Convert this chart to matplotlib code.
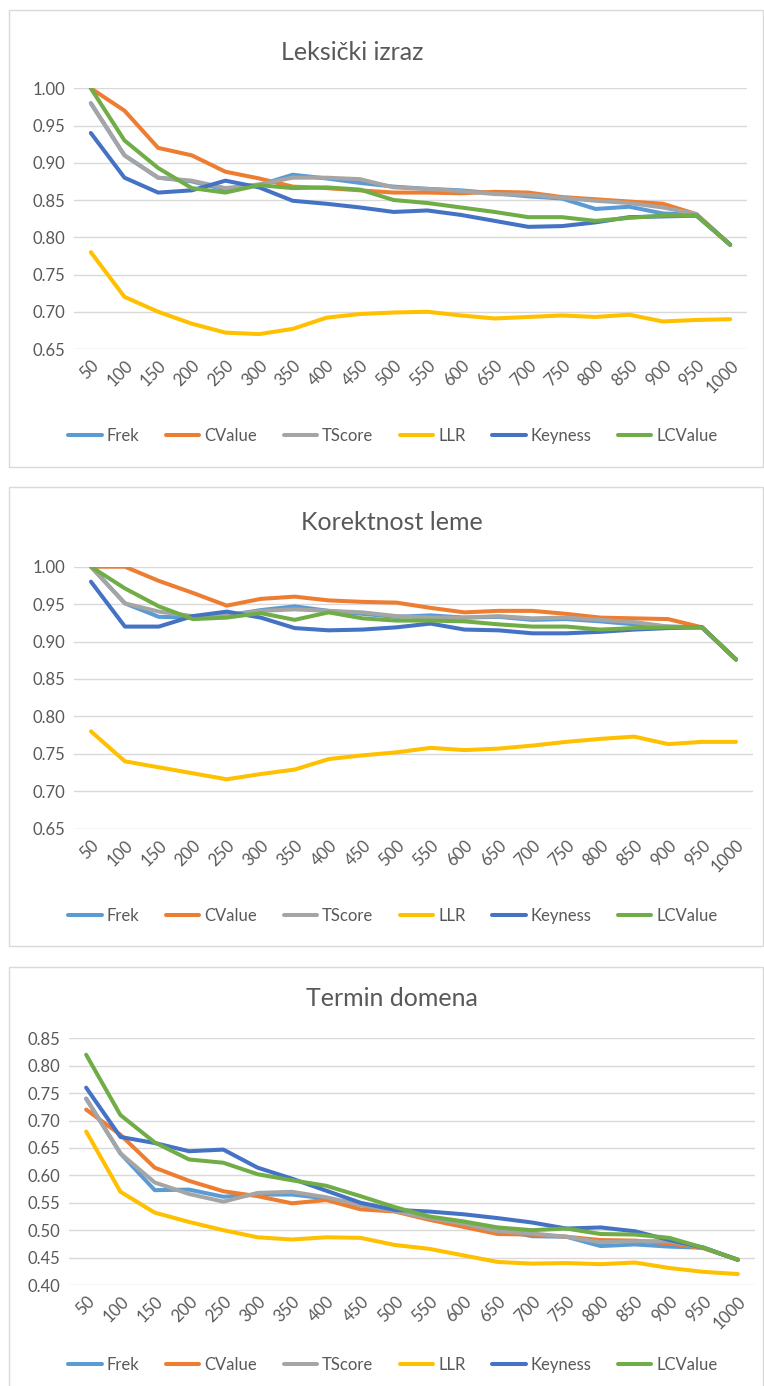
import numpy as np
import matplotlib
matplotlib.use("Agg")
import matplotlib.pyplot as plt
from matplotlib.patches import Rectangle

plt.rcParams['font.family'] = ['Lato', 'DejaVu Sans']

cats = [50, 100, 150, 200, 250, 300, 350, 400, 450, 500,
        550, 600, 650, 700, 750, 800, 850, 900, 950, 1000]
names = ["Frek", "CValue", "TScore", "LLR", "Keyness", "LCValue"]
colors = ["#5B9BD5", "#ED7D31", "#A5A5A5", "#FFC000", "#4472C4", "#70AD47"]

# Leksicki izraz
lek_frek = [0.98, 0.91, 0.88, 0.875, 0.864, 0.87, 0.884, 0.879, 0.873, 0.868,
            0.865, 0.863, 0.859, 0.855, 0.852, 0.838, 0.841, 0.832, 0.830, 0.790]
lek_cvalue = [1.00, 0.97, 0.92, 0.91, 0.888, 0.879, 0.868, 0.866, 0.863, 0.860,
              0.860, 0.859, 0.861, 0.860, 0.854, 0.851, 0.848, 0.845, 0.831, 0.790]
lek_tscore = [0.98, 0.91, 0.880, 0.876, 0.866, 0.871, 0.880, 0.880, 0.878, 0.867,
              0.865, 0.862, 0.858, 0.857, 0.853, 0.849, 0.846, 0.840, 0.831, 0.790]
lek_llr = [0.78, 0.72, 0.70, 0.684, 0.672, 0.670, 0.677, 0.692, 0.697, 0.699,
           0.700, 0.695, 0.691, 0.693, 0.695, 0.693, 0.696, 0.687, 0.689, 0.690]
lek_keyness = [0.94, 0.88, 0.86, 0.863, 0.876, 0.867, 0.849, 0.845, 0.840, 0.834,
               0.836, 0.830, 0.822, 0.814, 0.815, 0.820, 0.827, 0.828, 0.829, 0.790]
lek_lcvalue = [1.00, 0.93, 0.893, 0.866, 0.860, 0.870, 0.866, 0.867, 0.864, 0.850,
               0.846, 0.840, 0.834, 0.827, 0.827, 0.822, 0.826, 0.829, 0.829, 0.790]

# Korektnost leme
kor_frek = [1.00, 0.951, 0.933, 0.932, 0.935, 0.942, 0.947, 0.941, 0.937, 0.933,
            0.935, 0.932, 0.933, 0.929, 0.930, 0.927, 0.923, 0.920, 0.919, 0.876]
kor_cvalue = [1.00, 1.00, 0.981, 0.965, 0.948, 0.957, 0.960, 0.955, 0.953, 0.952,
              0.945, 0.939, 0.941, 0.941, 0.937, 0.932, 0.931, 0.930, 0.919, 0.876]
kor_tscore = [1.00, 0.951, 0.940, 0.934, 0.935, 0.941, 0.943, 0.941, 0.939, 0.934,
              0.932, 0.932, 0.934, 0.931, 0.932, 0.929, 0.926, 0.920, 0.919, 0.876]
kor_llr = [0.78, 0.740, 0.732, 0.724, 0.716, 0.723, 0.729, 0.743, 0.748, 0.752,
           0.758, 0.755, 0.757, 0.761, 0.766, 0.770, 0.773, 0.763, 0.766, 0.766]
kor_keyness = [0.98, 0.92, 0.92, 0.934, 0.940, 0.932, 0.918, 0.915, 0.916, 0.919,
               0.924, 0.916, 0.915, 0.911, 0.911, 0.913, 0.916, 0.918, 0.919, 0.876]
kor_lcvalue = [1.00, 0.971, 0.947, 0.930, 0.932, 0.938, 0.929, 0.939, 0.931, 0.928,
               0.928, 0.927, 0.923, 0.920, 0.920, 0.916, 0.918, 0.919, 0.919, 0.876]

# Termin domena
ter_frek = [0.74, 0.64, 0.573, 0.574, 0.561, 0.565, 0.565, 0.558, 0.546, 0.535,
            0.523, 0.512, 0.501, 0.489, 0.488, 0.471, 0.474, 0.470, 0.468, 0.446]
ter_cvalue = [0.72, 0.674, 0.614, 0.590, 0.571, 0.562, 0.549, 0.555, 0.538, 0.534,
              0.519, 0.506, 0.493, 0.492, 0.488, 0.482, 0.481, 0.476, 0.467, 0.446]
ter_tscore = [0.74, 0.64, 0.587, 0.566, 0.552, 0.568, 0.570, 0.560, 0.546, 0.535,
              0.522, 0.512, 0.498, 0.494, 0.488, 0.478, 0.480, 0.480, 0.468, 0.446]
ter_llr = [0.68, 0.57, 0.532, 0.515, 0.500, 0.487, 0.483, 0.487, 0.486, 0.473,
           0.466, 0.454, 0.442, 0.439, 0.440, 0.438, 0.441, 0.431, 0.424, 0.420]
ter_keyness = [0.76, 0.67, 0.659, 0.644, 0.647, 0.614, 0.594, 0.572, 0.550, 0.537,
               0.534, 0.529, 0.522, 0.514, 0.503, 0.505, 0.498, 0.482, 0.468, 0.446]
ter_lcvalue = [0.82, 0.71, 0.660, 0.629, 0.623, 0.602, 0.591, 0.581, 0.562, 0.542,
               0.525, 0.516, 0.505, 0.500, 0.503, 0.493, 0.492, 0.486, 0.468, 0.446]

panels = [
    ("Leksički izraz", [lek_frek, lek_cvalue, lek_tscore, lek_llr, lek_keyness, lek_lcvalue],
     (0.65, 1.00), (74, 88.3, 747, 349), (9, 10, 467), 352, 52, 436),
    ("Korektnost leme", [kor_frek, kor_cvalue, kor_tscore, kor_llr, kor_keyness, kor_lcvalue],
     (0.65, 1.00), (74, 566.7, 753, 828.7), (9, 487, 946), 392, 522, 916),
    ("Termin domena", [ter_frek, ter_cvalue, ter_tscore, ter_llr, ter_keyness, ter_lcvalue],
     (0.40, 0.85), (69, 1038.3, 755, 1285), (9, 967, 1395), 392, 999, 1365),
]

W, H = 764, 1386
fig = plt.figure(figsize=(W / 100, H / 100), dpi=100)
txt = "#595959"
grid = "#D9D9D9"

for title, series, ylim, (x0, y0, x1, y1), (bx, by0, by1), tx, ty, ly in panels:
    fig.patches.append(Rectangle((bx / W, 1 - by1 / H), (763 - bx) / W, (by1 - by0) / H,
                                 transform=fig.transFigure, fill=False,
                                 edgecolor=grid, linewidth=1.0))
    ax = fig.add_axes([x0 / W, 1 - y1 / H, (x1 - x0) / W, (y1 - y0) / H])
    xs = np.arange(len(cats))
    for vals, name, c in zip(series, names, colors):
        ax.plot(xs, vals, color=c, linewidth=2.9, label=name, solid_capstyle='round',
                solid_joinstyle='round')
    ax.set_xlim(-0.5, len(cats) - 0.5)
    ax.set_ylim(*ylim)
    ax.set_yticks(np.arange(ylim[0], ylim[1] + 0.001, 0.05))
    ax.yaxis.set_major_formatter(matplotlib.ticker.FormatStrFormatter('%.2f'))
    ax.set_xticks(xs)
    ax.set_xticklabels([str(c) for c in cats], rotation=45, ha='right',
                       rotation_mode='anchor')
    ax.tick_params(length=0, labelsize=12, labelcolor=txt, pad=6)
    ax.tick_params(axis='x', pad=6)
    for s in ax.spines.values():
        s.set_visible(False)
    ax.grid(axis='y', color=grid, linewidth=1.0)
    ax.set_axisbelow(True)
    fig.text(tx / W, 1 - ty / H, title, ha='center', va='center', fontsize=18, color=txt)
    fig.legend(*ax.get_legend_handles_labels(), loc='center', ncol=6,
               bbox_to_anchor=(393 / W, 1 - ly / H), frameon=False, fontsize=12,
               labelcolor=txt, handlelength=2.0, handletextpad=0.3, columnspacing=1.6)

fig.savefig("out.png", dpi=100)
